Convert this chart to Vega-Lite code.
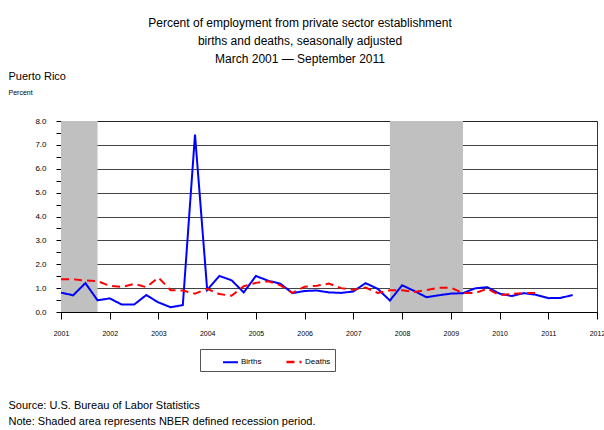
{
  "$schema": "https://vega.github.io/schema/vega-lite/v6.json",
  "width": 536,
  "height": 191,
  "autosize": {"type": "none"},
  "padding": {"left": 61, "top": 121, "right": 7, "bottom": 118},
  "background": "white",
  "config": {
    "font": "Liberation Sans",
    "view": {"stroke": "#333", "strokeWidth": 1},
    "axis": {"labelFont": "Liberation Sans", "titleFont": "Liberation Sans", "labelColor": "#000", "titleColor": "#000", "titleFontWeight": "normal"}
  },
  "title": {
    "text": ["Percent of employment from private sector establishment", "births and deaths, seasonally adjusted", "March 2001 \u2014 September 2011"],
    "font": "Liberation Sans",
    "fontSize": 12,
    "fontWeight": "normal",
    "color": "#000",
    "anchor": "middle",
    "frame": "group",
    "dx": -29,
    "offset": 4,
    "lineHeight": 18
  },
  "datasets": {
    "recessions": [
      {"start": 2001.0, "end": 2001.75},
      {"start": 2007.75, "end": 2009.25}
    ],
    "series": [
      {"date": 2001.00, "series": "Births", "value": 0.81},
      {"date": 2001.25, "series": "Births", "value": 0.70},
      {"date": 2001.50, "series": "Births", "value": 1.21},
      {"date": 2001.75, "series": "Births", "value": 0.49},
      {"date": 2002.00, "series": "Births", "value": 0.57},
      {"date": 2002.25, "series": "Births", "value": 0.31},
      {"date": 2002.50, "series": "Births", "value": 0.31},
      {"date": 2002.75, "series": "Births", "value": 0.71},
      {"date": 2003.00, "series": "Births", "value": 0.40},
      {"date": 2003.25, "series": "Births", "value": 0.20},
      {"date": 2003.50, "series": "Births", "value": 0.29},
      {"date": 2003.75, "series": "Births", "value": 7.43},
      {"date": 2004.00, "series": "Births", "value": 0.92},
      {"date": 2004.25, "series": "Births", "value": 1.51},
      {"date": 2004.50, "series": "Births", "value": 1.33},
      {"date": 2004.75, "series": "Births", "value": 0.82},
      {"date": 2005.00, "series": "Births", "value": 1.51},
      {"date": 2005.25, "series": "Births", "value": 1.31},
      {"date": 2005.50, "series": "Births", "value": 1.19},
      {"date": 2005.75, "series": "Births", "value": 0.79},
      {"date": 2006.00, "series": "Births", "value": 0.88},
      {"date": 2006.25, "series": "Births", "value": 0.90},
      {"date": 2006.50, "series": "Births", "value": 0.82},
      {"date": 2006.75, "series": "Births", "value": 0.80},
      {"date": 2007.00, "series": "Births", "value": 0.86},
      {"date": 2007.25, "series": "Births", "value": 1.21},
      {"date": 2007.50, "series": "Births", "value": 0.97},
      {"date": 2007.75, "series": "Births", "value": 0.48},
      {"date": 2008.00, "series": "Births", "value": 1.12},
      {"date": 2008.25, "series": "Births", "value": 0.88},
      {"date": 2008.50, "series": "Births", "value": 0.62},
      {"date": 2008.75, "series": "Births", "value": 0.70},
      {"date": 2009.00, "series": "Births", "value": 0.77},
      {"date": 2009.25, "series": "Births", "value": 0.79},
      {"date": 2009.50, "series": "Births", "value": 0.99},
      {"date": 2009.75, "series": "Births", "value": 1.04},
      {"date": 2010.00, "series": "Births", "value": 0.77},
      {"date": 2010.25, "series": "Births", "value": 0.67},
      {"date": 2010.50, "series": "Births", "value": 0.79},
      {"date": 2010.75, "series": "Births", "value": 0.72},
      {"date": 2011.00, "series": "Births", "value": 0.58},
      {"date": 2011.25, "series": "Births", "value": 0.59},
      {"date": 2011.50, "series": "Births", "value": 0.71},
      {"date": 2001.00, "series": "Deaths", "value": 1.37},
      {"date": 2001.25, "series": "Deaths", "value": 1.37},
      {"date": 2001.50, "series": "Deaths", "value": 1.32},
      {"date": 2001.75, "series": "Deaths", "value": 1.29},
      {"date": 2002.00, "series": "Deaths", "value": 1.10},
      {"date": 2002.25, "series": "Deaths", "value": 1.05},
      {"date": 2002.50, "series": "Deaths", "value": 1.18},
      {"date": 2002.75, "series": "Deaths", "value": 1.04},
      {"date": 2003.00, "series": "Deaths", "value": 1.44},
      {"date": 2003.25, "series": "Deaths", "value": 0.91},
      {"date": 2003.50, "series": "Deaths", "value": 0.90},
      {"date": 2003.75, "series": "Deaths", "value": 0.77},
      {"date": 2004.00, "series": "Deaths", "value": 0.97},
      {"date": 2004.25, "series": "Deaths", "value": 0.75},
      {"date": 2004.50, "series": "Deaths", "value": 0.68},
      {"date": 2004.75, "series": "Deaths", "value": 1.08},
      {"date": 2005.00, "series": "Deaths", "value": 1.22},
      {"date": 2005.25, "series": "Deaths", "value": 1.29},
      {"date": 2005.50, "series": "Deaths", "value": 1.12},
      {"date": 2005.75, "series": "Deaths", "value": 0.80},
      {"date": 2006.00, "series": "Deaths", "value": 1.06},
      {"date": 2006.25, "series": "Deaths", "value": 1.10},
      {"date": 2006.50, "series": "Deaths", "value": 1.19},
      {"date": 2006.75, "series": "Deaths", "value": 1.00},
      {"date": 2007.00, "series": "Deaths", "value": 0.93},
      {"date": 2007.25, "series": "Deaths", "value": 1.02},
      {"date": 2007.50, "series": "Deaths", "value": 0.80},
      {"date": 2007.75, "series": "Deaths", "value": 0.91},
      {"date": 2008.00, "series": "Deaths", "value": 0.91},
      {"date": 2008.25, "series": "Deaths", "value": 0.84},
      {"date": 2008.50, "series": "Deaths", "value": 0.92},
      {"date": 2008.75, "series": "Deaths", "value": 1.02},
      {"date": 2009.00, "series": "Deaths", "value": 1.02},
      {"date": 2009.25, "series": "Deaths", "value": 0.79},
      {"date": 2009.50, "series": "Deaths", "value": 0.80},
      {"date": 2009.75, "series": "Deaths", "value": 0.97},
      {"date": 2010.00, "series": "Deaths", "value": 0.70},
      {"date": 2010.25, "series": "Deaths", "value": 0.76},
      {"date": 2010.50, "series": "Deaths", "value": 0.79},
      {"date": 2010.75, "series": "Deaths", "value": 0.80}
    ]
  },
  "layer": [
    {
      "data": {"name": "recessions"},
      "mark": {"type": "rect", "color": "#c0c0c0"},
      "encoding": {
        "x": {
          "field": "start", "type": "quantitative",
          "scale": {"domain": [2001, 2012], "nice": false, "zero": false},
          "axis": {
            "values": [2001, 2001.25, 2001.5, 2001.75, 2002, 2002.25, 2002.5, 2002.75, 2003, 2003.25, 2003.5, 2003.75, 2004, 2004.25, 2004.5, 2004.75, 2005, 2005.25, 2005.5, 2005.75, 2006, 2006.25, 2006.5, 2006.75, 2007, 2007.25, 2007.5, 2007.75, 2008, 2008.25, 2008.5, 2008.75, 2009, 2009.25, 2009.5, 2009.75, 2010, 2010.25, 2010.5, 2010.75, 2011, 2011.25, 2011.5, 2011.75, 2012],
            "labelExpr": "datum.value % 1 === 0 ? format(datum.value, 'd') : ''",
            "grid": false,
            "tickSize": {"condition": {"test": "datum.value % 1 === 0", "value": 7}, "value": 4},
            "tickColor": "#000",
            "domainColor": "#000",
            "labelFontSize": 7,
            "labelPadding": 10,
            "labelFlush": false,
            "labelOverlap": false,
            "title": ["Source: U.S. Bureau of Labor Statistics", "Note: Shaded area represents NBER defined recession period."],
            "titleFontSize": 11,
            "titleAnchor": "start",
            "titleAlign": "left",
            "titleBaseline": "top",
            "titleX": -53,
            "titleY": 87,
            "titleLineHeight": 16
          }
        },
        "x2": {"field": "end"},
        "y": {
          "datum": 0, "type": "quantitative",
          "scale": {"domain": [0, 8], "nice": false},
          "axis": {
            "orient": "right",
            "domain": false, "ticks": false, "labels": false, "grid": false,
            "title": "Puerto Rico",
            "titleAngle": 0,
            "titleAlign": "left",
            "titleBaseline": "middle",
            "titleX": -589,
            "titleY": -45,
            "titleFontSize": 11
          }
        },
        "y2": {"datum": 8}
      }
    },
    {
      "data": {"name": "series"},
      "mark": {"type": "line", "strokeWidth": 2},
      "encoding": {
        "x": {"field": "date", "type": "quantitative"},
        "y": {
          "field": "value", "type": "quantitative",
          "scale": {"domain": [0, 8], "nice": false},
          "axis": {
            "orient": "left",
            "values": [0, 0.5, 1, 1.5, 2, 2.5, 3, 3.5, 4, 4.5, 5, 5.5, 6, 6.5, 7, 7.5, 8],
            "labelExpr": "datum.value % 1 === 0 ? format(datum.value, '.1f') : ''",
            "grid": true,
            "gridColor": "#222",
            "gridOpacity": {"condition": {"test": "datum.value % 1 !== 0", "value": 0}, "value": 0.85},
            "tickSize": 5,
            "tickColor": "#000",
            "domainColor": "#000",
            "labelFontSize": 8,
            "labelPadding": 10,
            "labelFlush": false,
            "labelOverlap": false,
            "title": "Percent",
            "titleAngle": 0,
            "titleAlign": "left",
            "titleBaseline": "middle",
            "titleX": -53,
            "titleY": -29,
            "titleFontSize": 7
          }
        },
        "color": {
          "field": "series", "type": "nominal",
          "scale": {"domain": ["Births", "Deaths"], "range": ["#0000ff", "#ff0000"]},
          "legend": {
            "title": null,
            "orient": "none",
            "legendX": 139,
            "legendY": 228,
            "direction": "horizontal",
            "strokeColor": "#555",
            "fillColor": "white",
            "padding": 4,
            "symbolType": "stroke",
            "symbolSize": 225,
            "symbolStrokeWidth": 1.5,
            "symbolOffset": 18,
            "labelFontSize": 8,
            "labelFont": "Liberation Sans",
            "labelColor": "#000",
            "columnPadding": 5,
            "labelOffset": 2
          }
        },
        "strokeDash": {
          "field": "series", "type": "nominal",
          "scale": {"domain": ["Births", "Deaths"], "range": [[1, 0], [8, 5]]},
          "legend": null
        },
        "strokeWidth": {
          "field": "series", "type": "nominal",
          "scale": {"domain": ["Births", "Deaths"], "range": [2, 2.5]},
          "legend": null
        }
      }
    }
  ],
  "resolve": {"scale": {"y": "independent"}}
}
